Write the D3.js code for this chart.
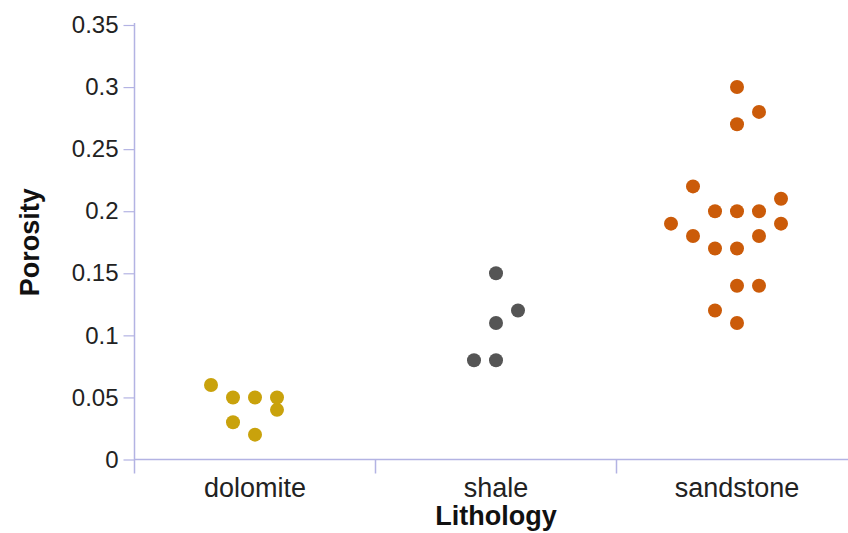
<!DOCTYPE html>
<html>
<head>
<meta charset="utf-8">
<script src="https://cdn.jsdelivr.net/npm/d3@7"></script>
<style>
  html, body { margin: 0; padding: 0; background: #fff; }
  svg { display: block; }
  text { font-family: "Liberation Sans", Arial, sans-serif; }
</style>
</head>
<body>
<svg id="chart" width="848" height="533"></svg>
<script>
// ---- data ----
const categories = ["dolomite", "shale", "sandstone"];
const dolomite = [0.06, 0.05, 0.05, 0.05, 0.04, 0.03, 0.02];
const shale = [0.15, 0.12, 0.11, 0.08, 0.08];
const sandstone = [0.30, 0.28, 0.27, 0.22, 0.21, 0.20, 0.20, 0.20, 0.19, 0.19,
                   0.18, 0.18, 0.17, 0.17, 0.14, 0.14, 0.12, 0.11];
const yTicks = [0, 0.05, 0.1, 0.15, 0.2, 0.25, 0.3, 0.35];
const yTickLabels = ["0", "0.05", "0.1", "0.15", "0.2", "0.25", "0.3", "0.35"];
const xTitle = "Lithology";
const yTitle = "Porosity";

const seriesByCategory = { dolomite, shale, sandstone };
const colors = { dolomite: "#c9a20c", shale: "#555555", sandstone: "#cb5b09" };

// ---- layout ----
const axisColor = "#b3b3e3";
const svg = d3.select("#chart");

const y = d3.scaleLinear().domain([0, 0.35]).range([459.5, 25]);
const x = d3.scaleBand().domain(categories).range([134.5, 857.5]).padding(0);

// dot-plot binning: values grouped into bins, spread alternately around the centre
const binSize = 0.03, binOrigin = -0.01, colStep = 22, radius = 7;
function placeDots(values) {
  const sorted = values.slice().sort((a, b) => a - b);
  const counts = new Map();
  let side = -1;
  return sorted.map(v => {
    const bin = Math.floor((v - binOrigin) / binSize + 1e-6);
    const k = counts.get(bin) || 0;
    counts.set(bin, k + 1);
    let col = 0;
    if (k > 0) { col = side * Math.ceil(k / 2); side = -side; }
    return { v, col };
  });
}

// y axis
const yAxis = d3.axisLeft(y)
  .tickValues(yTicks)
  .tickFormat((d, i) => yTickLabels[i])
  .tickSize(11)
  .tickPadding(5);
const gy = svg.append("g").attr("transform", "translate(134.5,0)").call(yAxis);
gy.select(".domain").remove();
gy.selectAll(".tick line").attr("stroke", axisColor).attr("stroke-width", 1.2);
gy.selectAll(".tick text")
  .attr("fill", "#222")
  .style("font-size", "24px");
gy.append("line")
  .attr("x1", 0).attr("x2", 0)
  .attr("y1", y(0.35) - 2).attr("y2", y(0) + 14)
  .attr("stroke", axisColor).attr("stroke-width", 1.5);

// x axis
const gx = svg.append("g").attr("transform", `translate(0,${y(0)})`);
gx.append("line")
  .attr("x1", x.range()[0]).attr("x2", 848)
  .attr("y1", 0).attr("y2", 0)
  .attr("stroke", axisColor).attr("stroke-width", 1.5);
gx.selectAll("line.bound")
  .data(categories.slice(0, -1))
  .join("line")
  .attr("class", "bound")
  .attr("x1", d => x(d) + x.bandwidth()).attr("x2", d => x(d) + x.bandwidth())
  .attr("y1", 0).attr("y2", 14)
  .attr("stroke", axisColor).attr("stroke-width", 1.5);
gx.selectAll("text.cat")
  .data(categories)
  .join("text")
  .attr("class", "cat")
  .attr("x", d => x(d) + x.bandwidth() / 2)
  .attr("y", 37)
  .attr("text-anchor", "middle")
  .attr("fill", "#222")
  .style("font-size", "27px")
  .text(d => d);

// titles
svg.append("text")
  .attr("x", x(categories[1]) + x.bandwidth() / 2)
  .attr("y", 525)
  .attr("text-anchor", "middle")
  .attr("fill", "#111")
  .style("font-size", "27px")
  .style("font-weight", "bold")
  .text(xTitle);
svg.append("text")
  .attr("transform", `translate(39,${y(0.175)}) rotate(-90)`)
  .attr("text-anchor", "middle")
  .attr("fill", "#111")
  .style("font-size", "27px")
  .style("font-weight", "bold")
  .text(yTitle);

// dots
categories.forEach(cat => {
  const cx = x(cat) + x.bandwidth() / 2;
  svg.append("g")
    .selectAll("circle")
    .data(placeDots(seriesByCategory[cat]))
    .join("circle")
    .attr("cx", d => cx + d.col * colStep)
    .attr("cy", d => y(d.v))
    .attr("r", radius)
    .attr("fill", colors[cat]);
});
</script>
</body>
</html>
